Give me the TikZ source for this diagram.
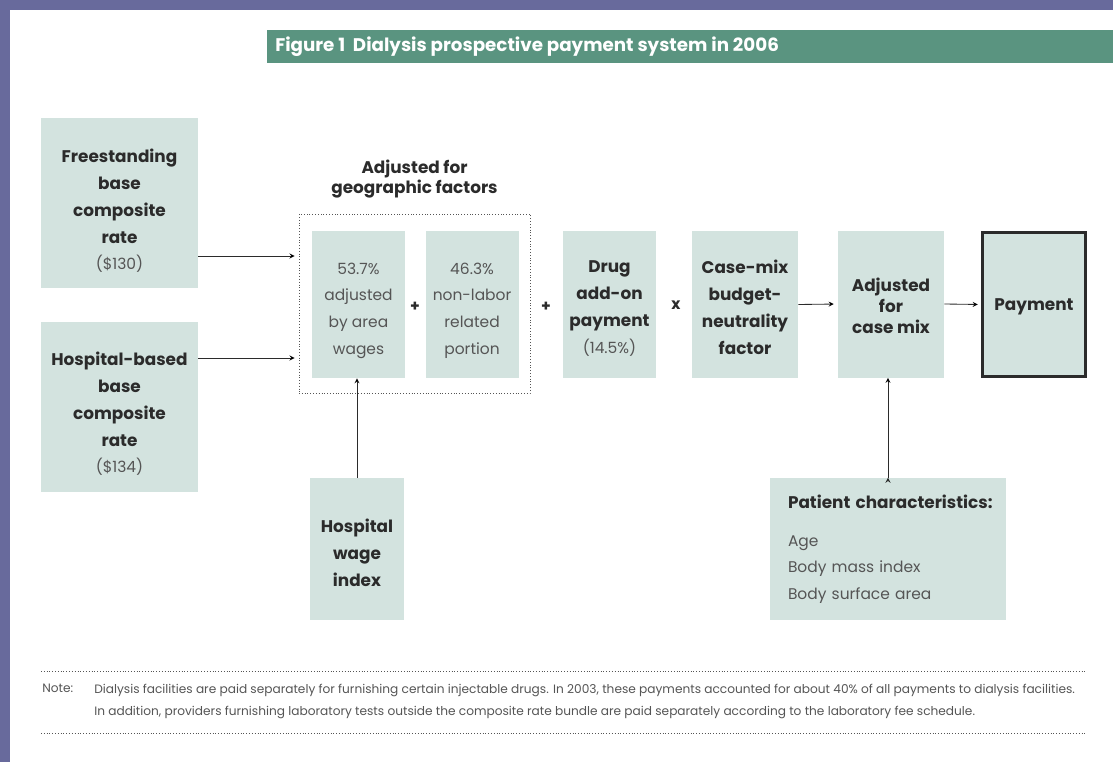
\documentclass[tikz,border=0pt]{standalone}
\usepackage{fontspec}
\setmainfont{Poppins}
\usepackage{xcolor}
\usetikzlibrary{arrows.meta, positioning}

\definecolor{frame}{HTML}{686A9C}
\definecolor{titlebar}{HTML}{5A9480}
\definecolor{boxfill}{HTML}{D3E3DF}
\definecolor{ink}{HTML}{2B2B2B}
\definecolor{inklight}{HTML}{555555}

\tikzset{
    block/.style 2 args = {fill=boxfill, inner sep=0pt,
        minimum width=#1*0.025cm, minimum height=#2*0.025cm},
    boxtext/.style = {align=center, inner sep=0pt, text=ink,
        font=\bfseries\fontsize{12}{19}\selectfont},
    lighttext/.style = {boxtext, text=inklight, font=\fontsize{11}{19}\selectfont},
    op/.style = {text=ink, inner sep=0pt, font=\bfseries\fontsize{11}{12}\selectfont},
    dotline/.style = {draw=ink!80, line width=0.6pt, dash pattern=on 0.5pt off 1.5pt},
    notefont/.style = {text=inklight, inner sep=0pt, font=\fontsize{8.65}{15.6}\selectfont},
}
\newcommand{\amount}[1]{{\mdseries\color{inklight}\fontsize{11}{19}\selectfont#1}}

\begin{document}
\begin{tikzpicture}[x=0.025cm, y=-0.025cm]
    % frame and title
    \fill[frame] (0,0) rectangle (1113,762);
    \fill[white] (10,10) rectangle (1113,762);
    \useasboundingbox (0,0) rectangle (1113,762);
    \fill[titlebar] (267,30) rectangle (1113,63);
    \node (title) [anchor=west, text=white, inner sep=0pt, font=\bfseries\fontsize{13}{15}\selectfont] at (275,46.5)
        {Figure 1\ \ Dialysis prospective payment system in 2006};

    % base rates
    \node (free) [block={157}{170}] at (119.5,203) {};
    \node (freetext) [boxtext, yshift=-5.7pt] at (free) {Freestanding\\base\\composite\\rate\\\amount{(\$130)}};
    \node (hosp) [block={157}{170}] at (119.5,407) {};
    \node (hosptext) [boxtext, yshift=-5pt] at (hosp) {Hospital-based\\base\\composite\\rate\\\amount{(\$134)}};

    % geographic adjustment
    \node (geo) [dotline, minimum width=231*0.025cm, minimum height=179*0.025cm] at (414.5,303.5) {};
    \node (geotitle) [above=0.37cm of geo, inner sep=0pt, align=center, text=ink,
        font=\bfseries\fontsize{12}{14.5}\selectfont] {Adjusted for\\geographic factors};
    \node (wages) [block={93}{147}] at (358.5,304.5) {};
    \node (wagestext) [lighttext, yshift=-4.3pt] at (wages) {53.7\%\\adjusted\\by area\\wages};
    \node (nonlabor) [block={93}{147}, right=0.5cm of wages] {};
    \node (nonlabortext) [lighttext, yshift=-4.3pt] at (nonlabor) {46.3\%\\non-labor\\related\\portion};
    \node (plusa) [op] at (415,307) {+};

    % remaining factors
    \node (plusb) [op] at (546,307) {+};
    \node (drug) [block={93}{147}] at (609.5,304.5) {};
    \node (drugtext) [boxtext, yshift=-2.8pt] at (drug) {Drug\\add-on\\payment\\\amount{(14.5\%)}};
    \node (times) [op] at (676,305) {x};
    \node (neutral) [block={106}{147}] at (745,304.5) {};
    \node (neutraltext) [boxtext, yshift=-2pt] at (neutral) {Case-mix\\budget-\\neutrality\\factor};
    \node (casemix) [block={106}{147}] at (891,304) {};
    \node (casemixtext) [boxtext, yshift=-1.4pt, font=\bfseries\fontsize{12}{15}\selectfont] at (casemix)
        {Adjusted\\for\\case mix};
    \node (payment) [block={103}{144}, boxtext, text depth=-1.7pt, draw=ink, line width=2.2pt] at (1034,304.5) {Payment};

    % inputs from below
    \node (wageindex) [block={94}{142}] at (357,549) {};
    \node (wageindextext) [boxtext, yshift=-2.8pt] at (wageindex) {Hospital\\wage\\index};
    \node (patient) [block={236}{142}, lighttext, align=left, text width=200*0.025cm] at (888,549)
        {\mbox{\bfseries\color{ink}\fontsize{12}{19}\selectfont Patient characteristics:}\\[8pt]Age\\Body mass index\\Body surface area};

    \coordinate (freein) at (250,256);
    \coordinate (hospin) at (250,358);
    \path [-stealth, draw=ink, line width=0.6pt]
    (free.east |- freein) edge[shorten >=0.1cm] (geo.west |- freein)
    (hosp.east |- hospin) edge[shorten >=0.1cm] (geo.west |- hospin)
    (wageindex.north) edge (wageindex.north |- wages.south)
    (neutral.east) edge[shorten >=0.1cm] (casemix.west)
    (casemix.east) edge[shorten >=0.08cm] (payment.west)
    (patient.north) edge (patient.north |- casemix.south);

    % note
    \draw[dotline] (41,671) -- (1087,671);
    \draw[dotline] (41,733) -- (1087,733);
    \node (notelabel) [notefont, anchor=north west] at (42,684) {Note:};
    \node (notetext) [notefont, anchor=north west, align=left] at (94,684)
        {Dialysis facilities are paid separately for furnishing certain injectable drugs. In 2003, these payments accounted for about 40\% of all payments to dialysis facilities.\\
         In addition, providers furnishing laboratory tests outside the composite rate bundle are paid separately according to the laboratory fee schedule.};
\end{tikzpicture}
\end{document}
